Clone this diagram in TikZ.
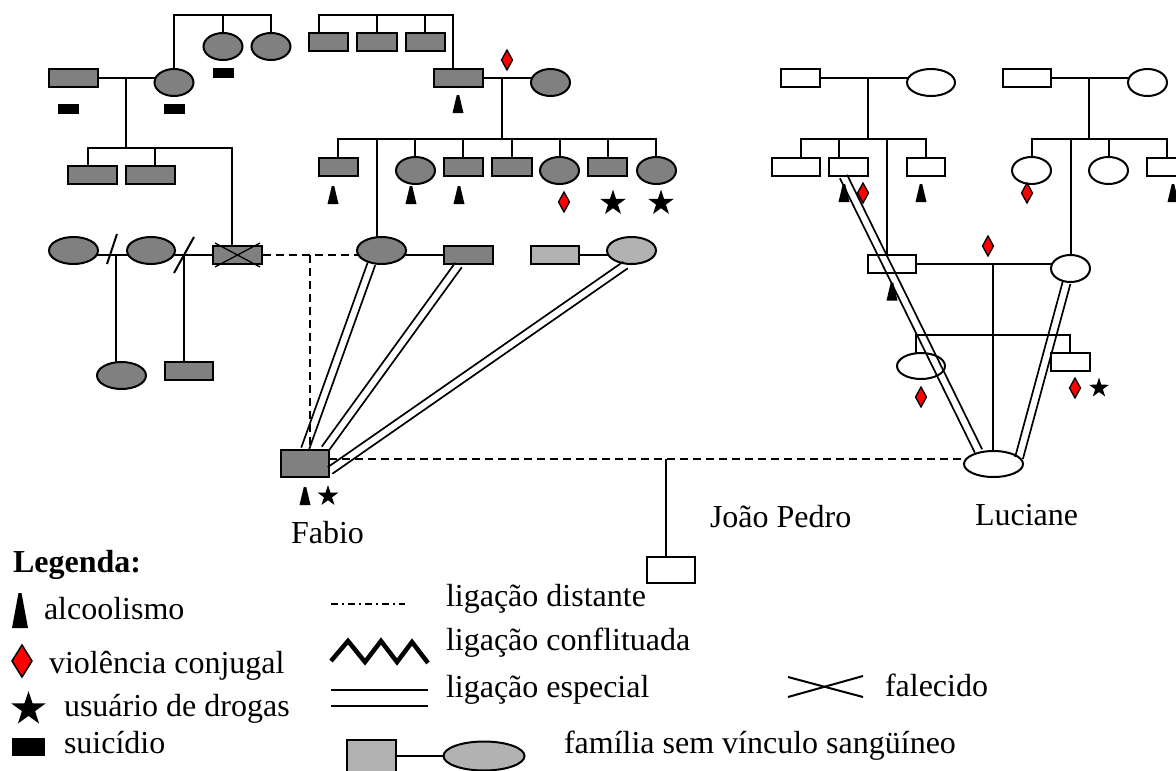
\documentclass[tikz,border=0pt]{standalone}
\usepackage{fontspec}
\setmainfont{Liberation Serif}
\usetikzlibrary{shapes.geometric,calc,backgrounds}
\definecolor{gdark}{HTML}{808080}
\definecolor{glight}{HTML}{B2B2B2}
\newcommand\speclink[2]{%
  \draw[line width=1.7pt] ($(#1)!4pt!90:(#2)$) -- ($(#2)!4pt!-90:(#1)$);
  \draw[line width=1.7pt] ($(#1)!4pt!-90:(#2)$) -- ($(#2)!4pt!90:(#1)$);}
\begin{document}
\begin{tikzpicture}[x=1pt,y=-1pt,line width=2pt,
 pm/.style={draw,rectangle,inner sep=0pt,minimum width=48pt,minimum height=18pt,fill=white},
 pf/.style={draw,ellipse,inner sep=0pt,minimum width=39pt,minimum height=27pt,fill=white},
 dk/.style={fill=gdark}, lt/.style={fill=glight},
 dist/.style={dash pattern=on 8pt off 5pt},
 lbl/.style={font=\fontsize{32}{38}\selectfont\rmfamily,anchor=base west,inner sep=0pt},
 starN/.style={star,star points=5,star point ratio=2.6,fill=black,draw=none,inner sep=0pt},
 alc/.pic={\fill (-5.5,9) -- (-1.2,-9) -- (1.2,-9) -- (5.5,9) -- cycle;},
 viol/.pic={\draw[fill=red,line width=1.3pt] (0,-10) -- (5.5,0) -- (0,10) -- (-5.5,0) -- cycle;},
 suic/.pic={\fill (-10.5,-5) rectangle (10.5,5);}]
\useasboundingbox (0,0) rectangle (1176,771);
\clip (0,0) rectangle (1176,771);

% ---------- left family ----------
\node[pm,dk,minimum width=49pt] (gA) at (73.5,78) {};
\node[pf,dk] (gB) at (174,82.5) {};
\node[pf,dk] (s1) at (223,46.5) {};
\node[pf,dk] (s2) at (271,46.5) {};
\node[pm,dk,minimum width=49pt] (c1) at (92.5,175) {};
\node[pm,dk,minimum width=49pt] (c2) at (150.5,175) {};
\node[pm,dk,minimum width=49pt] (c3) at (237.5,255) {};
\node[pf,dk,minimum width=49pt] (w1) at (73.5,250.5) {};
\node[pf,dk,minimum width=48pt] (w2) at (151,250.5) {};
\node[pf,dk,minimum width=49pt] (k1) at (121.5,375.5) {};
\node[pm,dk] (k2) at (189,371) {};

% ---------- middle family ----------
\node[pm,dk,minimum width=39pt] (u1) at (328.5,42) {};
\node[pm,dk,minimum width=40pt] (u2) at (377,42) {};
\node[pm,dk,minimum width=39pt] (u3) at (425.5,42) {};
\node[pm,dk,minimum width=49pt] (F) at (458.5,78) {};
\node[pf,dk] (M) at (550.5,82.5) {};
\node[pm,dk,minimum width=39pt] (ch1) at (338.5,166.5) {};
\node[pf,dk] (ch2) at (415.5,170.5) {};
\node[pm,dk,minimum width=39pt] (ch3) at (463.5,166.5) {};
\node[pm,dk,minimum width=40pt] (ch4) at (512,166.5) {};
\node[pf,dk] (ch5) at (559.5,170.5) {};
\node[pm,dk,minimum width=39pt] (ch6) at (607.5,166.5) {};
\node[pf,dk] (ch7) at (656.5,170.5) {};
\node[pf,dk,minimum width=49pt] (MF) at (381.5,250.5) {};
\node[pm,dk,minimum width=49pt] (P1) at (468.5,255) {};
\node[pm,lt] (L1) at (555,255) {};
\node[pf,lt,minimum width=49pt] (L2) at (631.5,250.5) {};
\node[pm,dk,minimum height=27pt] (Fab) at (305,463.5) {};
\node[pm,minimum height=26pt] (JP) at (671,570) {};

% ---------- right families ----------
\node[pm,minimum width=39pt] (R1) at (800.5,78) {};
\node[pf,minimum width=48pt] (R2) at (931,82.5) {};
\node[pm] (r1) at (796,166.5) {};
\node[pm,minimum width=39pt] (r2) at (848.5,166.5) {};
\node[pm,minimum width=38pt] (r4) at (926,166.5) {};
\node[pm] (LF) at (892,264) {};
\node[pf] (LM) at (1070.5,268.5) {};
\node[pm] (R3) at (1027,78) {};
\node[pf] (R4) at (1147.5,82.5) {};
\node[pf] (r5) at (1031.5,170.5) {};
\node[pf] (r6) at (1108.5,170.5) {};
\node[pm,minimum width=39pt] (r7) at (1166.5,166.5) {};
\node[pf,minimum width=48pt,minimum height=26pt] (ls1) at (921,366) {};
\node[pm,minimum width=39pt] (ls2) at (1070.5,362) {};
\node[pf,minimum width=59pt,minimum height=26pt] (Lu) at (993.5,464) {};

% ---------- connectors (behind the symbols) ----------
\begin{scope}[on background layer]
\begin{scope}[line width=2pt]
  % left
  \coordinate (jL1) at (174,15); \coordinate (jL2) at (271,15);
  \draw (gB) -- (jL1) -- (jL2) -- (s2);
  \draw (s1) -- (s1 |- jL1);
  \draw (gA) -- (gB |- gA);
  \coordinate (mL) at (126,78); \coordinate (sL1) at (88,148); \coordinate (sL2) at (232,148);
  \draw (mL) -- (mL |- sL1);
  \draw (sL1 |- c1) -- (sL1) -- (sL2) -- (sL2 |- c3);
  \coordinate (sLc2) at (155,148); \draw (sLc2) -- (sLc2 |- c2);
  \draw (w1 |- c3) -- (c3);
  \coordinate (d1) at (116,255); \coordinate (d2) at (184,255);
  \draw (d1) -- (d1 |- k1);
  \draw (d2) -- (d2 |- k2);
  % middle
  \coordinate (jT1) at (319,15); \coordinate (jT2) at (453,15);
  \draw (jT1 |- u1) -- (jT1) -- (jT2) -- (jT2 |- F);
  \draw (u2) -- (u2 |- jT1);
  \coordinate (jT3) at (425,15); \draw (jT3) -- (jT3 |- u3);
  \draw (F) -- (M |- F);
  \coordinate (mM) at (502,78); \coordinate (sM1) at (338,139); \coordinate (sM2) at (656,139);
  \draw (mM) -- (mM |- sM1);
  \draw (sM1 |- ch1) -- (sM1) -- (sM2) -- (sM2 |- ch7);
  \foreach \xx/\n in {415/ch2,463/ch3,512/ch4,560/ch5,608/ch6} {
    \coordinate (k\n) at (\xx,139);
    \draw (k\n) -- (k\n |- \n);}
  \coordinate (sMF) at (377,139);
  \draw (sMF) -- (sMF |- MF);
  \draw (MF |- P1) -- (P1);
  \draw (L1) -- (L2 |- L1);
  \coordinate (dj) at (310,255);
  \draw[dist] (c3.east) -- (MF |- c3);
  \draw[dist] (dj) -- (dj |- Fab.north);
  \coordinate (fl) at (329,459);
  \draw[dist] (fl) -- (fl -| Lu);
  \coordinate (jp) at (666,459);
  \draw (jp) -- (jp |- JP);
  % right
  \draw (R1) -- (R2 |- R1);
  \coordinate (mR) at (868,78); \coordinate (sR1) at (801,139); \coordinate (sR2) at (926,139);
  \draw (mR) -- (mR |- sR1);
  \draw (sR1 |- r1) -- (sR1) -- (sR2) -- (sR2 |- r4);
  \coordinate (sRr2) at (839,139); \draw (sRr2) -- (sRr2 |- r2);
  \coordinate (sRLF) at (887,139); \draw (sRLF) -- (sRLF |- LF);
  \draw (R3) -- (R4 |- R3);
  \coordinate (mR2) at (1089,78); \coordinate (sS1) at (1032,139); \coordinate (sS2) at (1167,139);
  \draw (mR2) -- (mR2 |- sS1);
  \draw (sS1 |- r5) -- (sS1) -- (sS2) -- (sS2 |- r7);
  \coordinate (sSr6) at (1109,139); \draw (sSr6) -- (sSr6 |- r6);
  \coordinate (sLM) at (1071,139); \draw (sLM) -- (sLM |- LM);
  \draw (LF) -- (LM |- LF);
  \coordinate (mL2) at (993,264); \draw (mL2) -- (mL2 |- Lu);
  \coordinate (sU1) at (916,335); \coordinate (sU2) at (1070,335);
  \draw (sU1 |- ls1) -- (sU1) -- (sU2) -- (sU2 |- ls2);
\end{scope}
\end{scope}

% divorce slashes and deceased cross
\draw (107,264) -- (117,234);
\draw (174,273) -- (194,237);
\draw[line width=1.3pt] ([shift={(3,-2)}]c3.north west) -- ([shift={(-3,2)}]c3.south east)
  ([shift={(3,2)}]c3.south west) -- ([shift={(-3,-2)}]c3.north east);

% special links
\coordinate (a1) at (Fab.north);
\coordinate (b1) at (MF.233);
\coordinate (a2) at ($(Fab.north east)+(-5,0)$);
\coordinate (b2) at ($(P1.south)+(-10,0)$);
\coordinate (a3) at ($(Fab.east)+(0,7)$);
\coordinate (b3) at ($(L2.south)+(-6,0)$);
\coordinate (a4) at ($(Lu.north)+(-15,1)$);
\coordinate (b4) at ($(r2.south)+(-5,0)$);
\coordinate (a5) at ($(Lu.east)+(-5,-6)$);
\coordinate (b5) at ($(LM.south)+(-4,0)$);
\speclink{a1}{b1}
\speclink{a2}{b2}
\speclink{a3}{b3}
\speclink{a4}{b4}
\speclink{a5}{b5}

% markers
\pic at (458,104) {alc};
\pic at (507,60) {viol};
\pic at (333,195) {alc}; \pic at (411,195) {alc}; \pic at (459,195) {alc};
\pic at (564,202) {viol};
\node[starN,minimum size=27pt] (st1) at (613,203) {};
\node[starN,minimum size=27pt] (st2) at (661,203) {};
\pic at (223,73) {suic}; \pic at (68.5,109) {suic}; \pic at (174.5,109) {suic};
\pic at (305,496) {alc};
\node[starN,minimum size=22pt] (st3) at (328,496) {};
\pic at (844,193) {alc}; \pic at (863,193) {viol}; \pic at (921,193) {alc};
\pic at (1027,193) {viol}; \pic at (1173,193) {alc};
\pic at (988,246) {viol}; \pic at (892,291.5) {alc};
\pic at (921,397) {viol}; \pic at (1075,388) {viol};
\node[starN,minimum size=21pt] (st4) at (1099,388) {};

% names
\node[lbl] (tFab) at (290,543) {Fabio};
\node[lbl] (tJP) at (709,527) {João Pedro};
\node[lbl] (tLu) at (974,525) {Luciane};

% ---------- legend ----------
\node[lbl,font=\fontsize{32}{38}\selectfont\rmfamily\bfseries] (lg) at (12,572) {Legenda:};
\fill (12,628) -- (18.5,593) -- (21.5,593) -- (28,628) -- cycle;
\node[lbl] (lg1) at (43,619) {alcoolismo};
\draw[fill=red,line width=1.5pt] (22,645) -- (32,661) -- (22,677) -- (12,661) -- cycle;
\node[lbl] (lg2) at (48,673) {violência conjugal};
\node[starN,minimum size=36pt] (lgs) at (28.5,709) {};
\node[lbl] (lg3) at (63,716) {usuário de drogas};
\fill (12,738) rectangle (45,756);
\node[lbl] (lg4) at (63,753) {suicídio};

\draw[line width=1.2pt,dash pattern=on 7pt off 4pt on 2pt off 4pt] (331,604) -- (405,604);
\node[lbl] (lg5) at (445,606) {ligação distante};
\draw[line width=4.5pt] (331,661) -- (348,641) -- (365,662) -- (381,641) -- (397,662) -- (412,642) -- (428,663);
\node[lbl] (lg6) at (445,650) {ligação conflituada};
\draw[line width=2.2pt] (331,690) -- (428,690);
\draw[line width=2.2pt] (331,706) -- (428,706);
\node[lbl] (lg7) at (445,697) {ligação especial};
\draw (788,677) -- (863,697);
\draw (788,697) -- (863,676);
\node[lbl] (lg8) at (884,696) {falecido};
\node[draw,rectangle,lt,inner sep=0pt,minimum width=49pt,minimum height=40pt] (lgr) at (371.5,760) {};
\node[draw,ellipse,lt,inner sep=0pt,minimum width=81pt,minimum height=29pt] (lgo) at (484,756) {};
\draw (lgr.east |- lgo) -- (lgo.west);
\node[lbl] (lg9) at (563,753) {família sem vínculo sangüíneo};
\end{tikzpicture}
\end{document}
